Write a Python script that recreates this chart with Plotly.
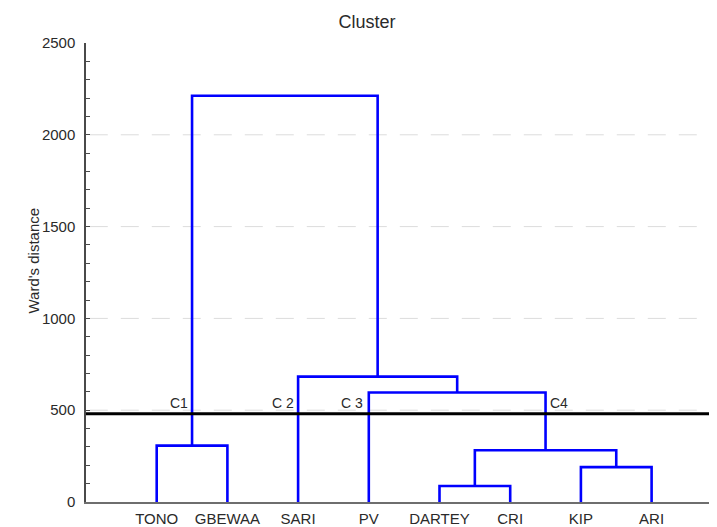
import plotly.graph_objects as go

# ---- data ----
leaves = ["TONO", "GBEWAA", "SARI", "PV", "DARTEY", "CRI", "KIP", "ARI"]
# merges (node names M1..M7 refer to the result of merge i)
merge_left = ["TONO", "DARTEY", "KIP", "M2", "PV", "SARI", "M1"]
merge_right = ["GBEWAA", "CRI", "ARI", "M3", "M4", "M5", "M6"]
merge_height = [307, 87, 190, 282, 596, 683, 2213]
cut_height = 480
cluster_labels = ["C1", "C 2", "C 3", "C4"]
cluster_nodes = ["M1", "SARI", "PV", "M4"]
y_ticks = [0, 500, 1000, 1500, 2000, 2500]
grid_vals = [500, 1000, 1500, 2000]

# ---- dendrogram geometry from merges ----
pos = {name: i + 1 for i, name in enumerate(leaves)}
hgt = {name: 0 for name in leaves}
xs, ys = [], []
for i, (a, b, h) in enumerate(zip(merge_left, merge_right, merge_height)):
    xa, xb = pos[a], pos[b]
    xs += [xa, xa, xb, xb, None]
    ys += [hgt[a], h, h, hgt[b], None]
    name = f"M{i + 1}"
    pos[name] = (xa + xb) / 2
    hgt[name] = h

fig = go.Figure()
fig.add_trace(go.Scatter(x=xs, y=ys, mode="lines",
                         line=dict(color="#0000ff", width=2.6),
                         hoverinfo="skip", showlegend=False))

font_family = "Liberation Sans, Arial, sans-serif"
txt = "#2a2a2a"

# page offset (body margin) and figure geometry
OFF = 8
W, H = 717 - OFF, 527 - OFF
ml, mr, mt, mb = 86 - OFF, 0, 43 - OFF, 23
pw, ph = W - ml - mr, H - mt - mb

shapes = []
for g in grid_vals:
    shapes.append(dict(type="line", xref="paper", yref="y", x0=0.006, x1=1,
                       y0=g, y1=g, layer="below",
                       line=dict(color="#dcdcdc", width=1, dash="18px,13px")))
shapes.append(dict(type="line", xref="paper", yref="y", x0=0, x1=1,
                   y0=cut_height, y1=cut_height, layer="above",
                   line=dict(color="#000000", width=3)))

anchors = ["right", "right", "right", "left"]
shifts = [-2, -2, -4, 2]
annotations = []
for lab, node, anc, sh in zip(cluster_labels, cluster_nodes, anchors, shifts):
    annotations.append(dict(x=pos[node], y=cut_height, xref="x", yref="y",
                            text=lab, showarrow=False, xanchor=anc,
                            yanchor="bottom", xshift=sh, yshift=1,
                            font=dict(family=font_family, size=14, color=txt)))
annotations.append(dict(x=(23 - 86) / pw, y=1 - (262 - 43) / ph,
                        xref="paper", yref="paper", text="Ward's distance",
                        showarrow=False, textangle=-90,
                        font=dict(family=font_family, size=15, color=txt)))

fig.update_layout(
    width=W, height=H,
    margin=dict(l=ml, r=mr, t=mt, b=mb, pad=0),
    paper_bgcolor="white", plot_bgcolor="white",
    font=dict(family=font_family, size=15, color=txt),
    title=dict(text="Cluster", x=(367 - OFF) / W, xref="container", xanchor="center",
               y=1 - (22 - OFF) / H, yref="container", yanchor="middle",
               font=dict(family=font_family, size=18, color=txt)),
    xaxis=dict(range=[0, pw / 70.7], tickmode="array",
               tickvals=list(range(1, len(leaves) + 1)), ticktext=leaves,
               showgrid=False, zeroline=False, ticks="", showline=True,
               linecolor="#6e6e6e", linewidth=1.5, ticklabelstandoff=2,
               tickfont=dict(family=font_family, size=15, color=txt)),
    yaxis=dict(range=[0, 2500], tickmode="array", tickvals=y_ticks,
               showgrid=False, zeroline=False, showline=True,
               linecolor="#4a4a4a", linewidth=1.5,
               ticks="inside", ticklen=4, tickcolor="#4a4a4a", tickwidth=1,
               minor=dict(dtick=100, ticks="inside", ticklen=4,
                          tickcolor="#4a4a4a", tickwidth=1, showgrid=False),
               ticklabelstandoff=6,
               tickfont=dict(family=font_family, size=15, color=txt)),
    shapes=shapes, annotations=annotations,
)

fig.write_html("out.html")
